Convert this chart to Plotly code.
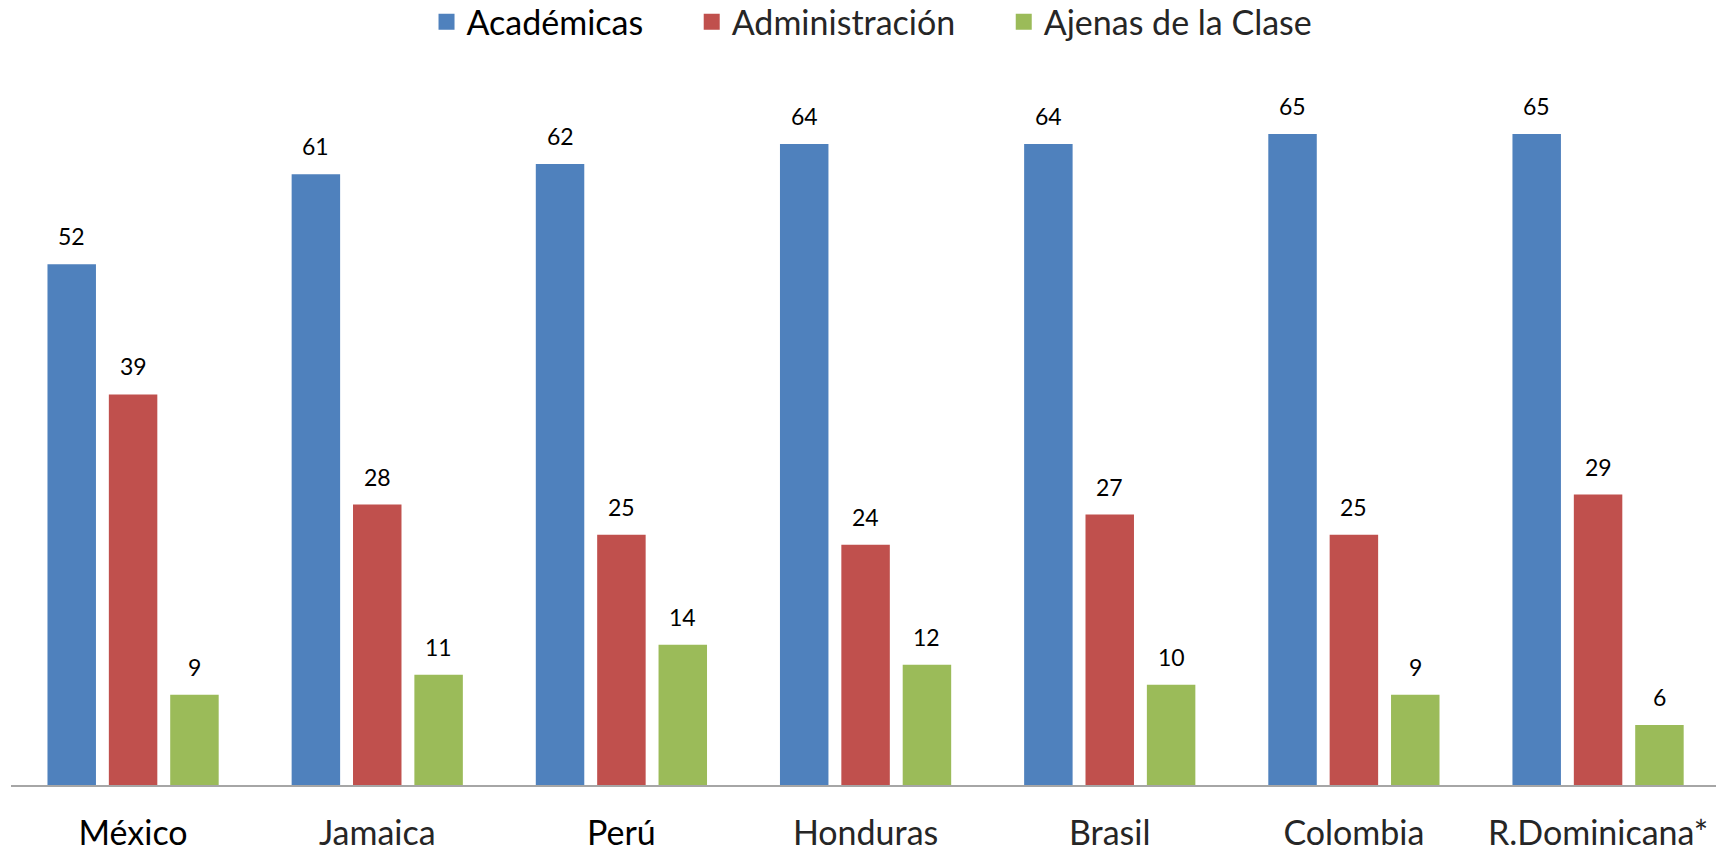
import plotly.graph_objects as go

categories = ["México", "Jamaica", "Perú", "Honduras", "Brasil", "Colombia", "R.Dominicana*"]
academicas = [52, 61, 62, 64, 64, 65, 65]
administracion = [39, 28, 25, 24, 27, 25, 29]
ajenas = [9, 11, 14, 12, 10, 9, 6]
series_names = ["Académicas", "Administración", "Ajenas de la Clase"]
colors = ["#4F81BD", "#C0504D", "#9BBB59"]
black_cats = {"México", "Perú"}

FONT = "Lato, Open Sans, sans-serif"
W, H = 1716, 851
ML, MR, MT, MB = 11, 0, 84, 66
BARGAP = 0.246
BARGROUPGAP = 0.21
XRANGE = [-0.5, 6.483]
NBSP = "&nbsp;" * 5

fig = go.Figure()
series = [academicas, administracion, ajenas]
for name, vals, col in zip(series_names, series, colors):
    fig.add_trace(go.Bar(x=categories, y=vals, name=name, marker=dict(color=col, line=dict(width=0)),
                         showlegend=False, hoverinfo="skip"))
for i, (name, col) in enumerate(zip(series_names, colors)):
    label = name if i == 0 else f"<span style='color:#262626'>{name}</span>"
    if i < len(series_names) - 1:
        label += NBSP
    fig.add_trace(go.Scatter(x=[None], y=[None], mode="markers", name=label,
                             marker=dict(symbol="square", size=21, color=col, line=dict(width=0))))

# data labels
plot_w = W - ML - MR
cat_w = plot_w / (XRANGE[1] - XRANGE[0])
slot = cat_w * (1 - BARGAP) / 3
for i, vals in enumerate(series):
    for c, v in zip(categories, vals):
        fig.add_annotation(x=c, y=v, text=str(v), showarrow=False, xref="x", yref="y",
                           xshift=(i - 1) * slot, yanchor="bottom", yshift=12,
                           font=dict(family=FONT, size=23, color="#000000"))

ticktext = [c if c in black_cats else f"<span style='color:#262626'>{c}</span>" for c in categories]

fig.update_layout(
    width=W, height=H,
    margin=dict(l=ML, r=MR, t=MT, b=MB, autoexpand=False),
    barmode="group", bargap=BARGAP, bargroupgap=BARGROUPGAP,
    plot_bgcolor="white", paper_bgcolor="white",
    font=dict(family=FONT, color="#000000"),
    legend=dict(orientation="h", x=0.505, xanchor="center", yref="container", y=0.974, yanchor="middle",
                font=dict(family=FONT, size=34, color="#000000"), itemsizing="trace"),
    xaxis=dict(type="category", categoryorder="array", categoryarray=categories,
               tickvals=categories, ticktext=ticktext, automargin=False,
               showline=True, linecolor="#A6A6A6", linewidth=2, showgrid=False,
               ticks="outside", ticklen=17, tickcolor="rgba(0,0,0,0)",
               tickfont=dict(family=FONT, size=34, color="#000000"),
               range=XRANGE),
    yaxis=dict(range=[0, 70], visible=False, showgrid=False, zeroline=False, automargin=False),
)

fig.write_html("out.html", config={"displayModeBar": False},
               post_script="document.body.style.margin='0';document.body.style.overflow='hidden';")
